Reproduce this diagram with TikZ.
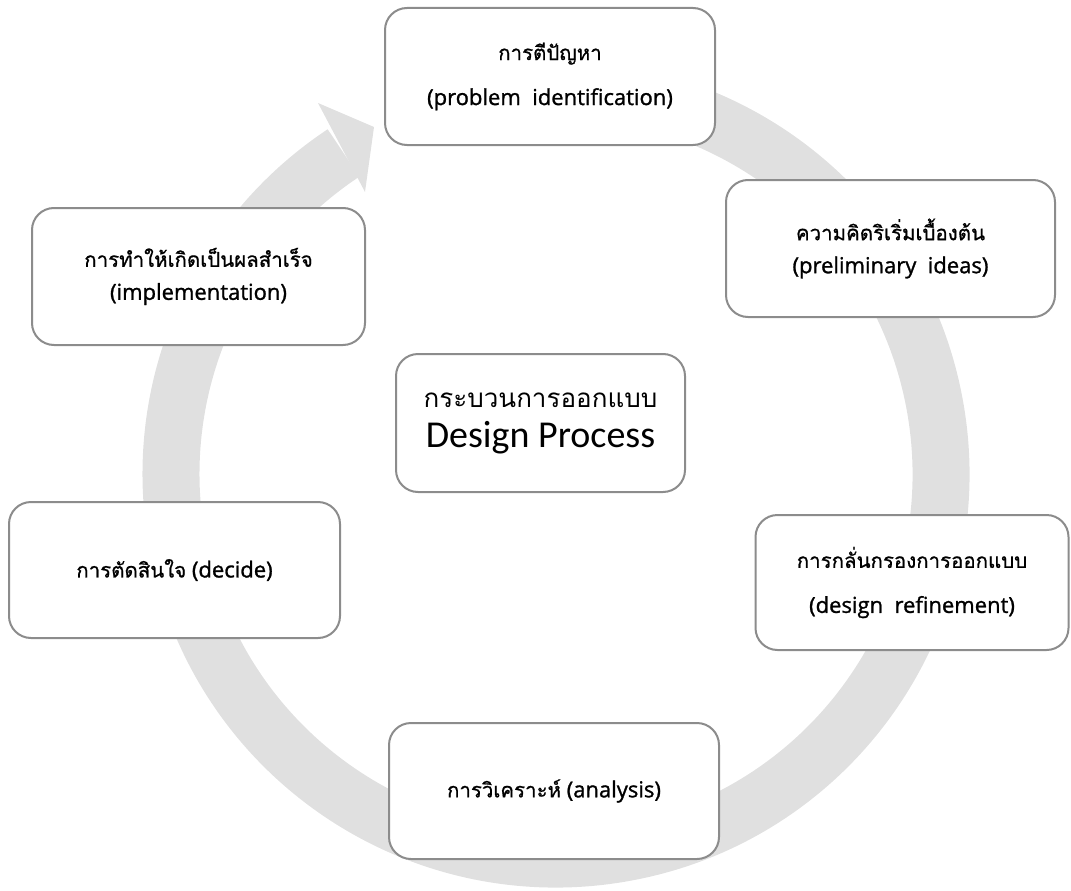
\documentclass[tikz,border=0pt]{standalone}
\usepackage{fontspec}
\setmainfont{Open Sans}[FakeBold=1.2]
\newfontfamily\latinfont{Open Sans}[FakeBold=1.2]
\newfontfamily\thaifont[Script=Thai,Scale=0.93,FakeBold=0.8]{Loma}
\newfontfamily\thaicenter[Script=Thai]{Loma}
\newfontfamily\calibfont{Carlito}
\definecolor{ringgray}{RGB}{224,224,224}
\definecolor{boxline}{RGB}{140,140,140}
\begin{document}
\begin{tikzpicture}[x=1pt,y=-1pt,
  stagebox/.style={draw=boxline, line width=2pt, fill=white, rounded corners=22pt,
    inner sep=0pt, align=center, text=black},
  widegap/.style={font=\latinfont\fontsize{22}{45}\selectfont},
  narrowgap/.style={font=\latinfont\fontsize{22}{33}\selectfont},
]
\useasboundingbox (0,0) rectangle (1071,891);
% circular arrow
\begin{scope}[shift={(556,474)}, y=1pt]
  \draw[ringgray, line width=57pt] (100:385) arc[start angle=100, end angle=-236.5, radius=385pt];
\end{scope}
\fill[ringgray] (318,103) -- (374,127) -- (365,192) -- cycle;

% stages
\node[stagebox, widegap, minimum width=330pt, minimum height=137pt] (prob) at (550,76.5)
  {{\thaifont การตีปัญหา}\\(problem~~identification)};
\node[stagebox, narrowgap, minimum width=329pt, minimum height=137pt] (prelim) at (890.5,248.5)
  {{\thaifont ความคิดริเริ่มเบื้องต้น}\\(preliminary~~ideas)};
\node[stagebox, widegap, minimum width=313pt, minimum height=135pt] (refine) at (912,582.5)
  {{\thaifont การกลั่นกรองการออกแบบ}\\(design~~refinement)};
\node[stagebox, narrowgap, minimum width=330pt, minimum height=136pt] (analysis) at (554,791)
  {\raisebox{-4pt}{{\thaifont การวิเคราะห์} (analysis)}};
\node[stagebox, narrowgap, minimum width=331pt, minimum height=136pt] (decide) at (174.5,570)
  {\raisebox{-3pt}{{\thaifont การตัดสินใจ} (decide)}};
\node[stagebox, narrowgap, minimum width=333pt, minimum height=137pt] (impl) at (198.5,276.5)
  {{\thaifont การทำให้เกิดเป็นผลสำเร็จ}\\(implementation)};
\node[stagebox, minimum width=289pt, minimum height=138pt, font=\fontsize{26}{36}\selectfont] (center) at (540.5,423)
  {{\thaicenter กระบวนการออกแบบ}\\[4pt]{\calibfont\fontsize{38}{36}\selectfont Design Process}};
\end{tikzpicture}
\end{document}
